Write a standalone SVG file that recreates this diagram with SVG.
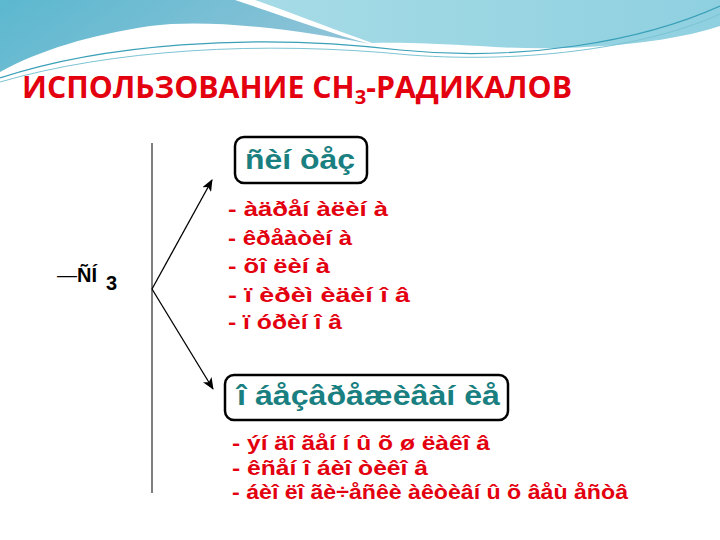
<svg xmlns="http://www.w3.org/2000/svg" width="720" height="540" viewBox="0 0 720 540">
<defs>
<linearGradient id="gL" x1="0" y1="0" x2="1" y2="0.3">
<stop offset="0" stop-color="#5bb8cf"/>
<stop offset="1" stop-color="#8ec3d8"/>
</linearGradient>
<linearGradient id="gR" x1="0" y1="0" x2="1" y2="0">
<stop offset="0" stop-color="#a6dbe6"/>
<stop offset="1" stop-color="#8fd0e0"/>
</linearGradient>
<marker id="ah" viewBox="0 0 12 10" refX="11" refY="5" markerWidth="12" markerHeight="10" markerUnits="userSpaceOnUse" orient="auto">
<path d="M0,0 L12,5 L0,10 L3,5 Z" fill="#000"/>
</marker>
<style>
.title{font-family:"Open Sans","Liberation Sans",sans-serif;font-weight:bold;font-size:30px;fill:#e3000f}
.box{fill:#fff;stroke:#000;stroke-width:2.5}
.head{font-family:"Liberation Sans",Arial,sans-serif;font-weight:bold;font-size:27px;fill:#1a7f80}
.item{font-family:"Liberation Sans",Arial,sans-serif;font-weight:bold;font-size:21px;fill:#e3000f}
.item2{font-family:"Liberation Sans",Arial,sans-serif;font-weight:bold;font-size:20px;fill:#e3000f}
.conn{stroke:#000;stroke-width:1.3;fill:none}
</style>
</defs>
<rect width="720" height="540" fill="#fff"/>
<g id="background">
<path d="M0,0 L235,0 C280,15 330,33 370,44 C300,30 210,18 150,26 C90,35 40,50 0,72 Z" fill="url(#gL)"/>
<path d="M255,0 L720,0 L720,26 C660,46 560,52 480,46 C440,44 400,42 372,43 C330,28 290,12 255,0 Z" fill="url(#gR)"/>
<path d="M0,78 C100,45 250,32 400,50 C520,62 640,42 720,6" fill="none" stroke="#3aa0b8" stroke-width="1.2"/>
<path d="M0,82 C110,50 260,40 410,55 C530,64 650,46 720,14" fill="none" stroke="#7cc4d4" stroke-width="1"/>
</g>
<text class="title" x="22" y="98" textLength="550" lengthAdjust="spacingAndGlyphs">ИСПОЛЬЗОВАНИЕ CH<tspan font-size="20" dy="6">3</tspan><tspan dy="-6">-РАДИКАЛОВ</tspan></text>
<g id="connectors">
<line x1="152" y1="143" x2="152" y2="493" stroke="#555" stroke-width="1.5"/>
<line class="conn" x1="152" y1="289" x2="212" y2="180" marker-end="url(#ah)"/>
<line class="conn" x1="152" y1="289" x2="213" y2="389" marker-end="url(#ah)"/>
</g>
<g id="ch3">
<text x="57" y="282" font-family="Liberation Sans,Arial,sans-serif" font-size="20" fill="#000">—<tspan font-weight="bold">ÑÍ</tspan><tspan font-weight="bold" dx="9" dy="8">3</tspan></text>
</g>
<g id="synthesis">
<rect class="box" x="235" y="137" width="132" height="46" rx="9"/>
<text class="head" x="245" y="169" textLength="110" lengthAdjust="spacingAndGlyphs">ñèí òåç</text>
</g>
<g id="synthesis-list">
<text class="item" x="228" y="216" textLength="160" lengthAdjust="spacingAndGlyphs">- àäðåí àëèí à</text>
<text class="item" x="228" y="245" textLength="124" lengthAdjust="spacingAndGlyphs">- êðåàòèí à</text>
<text class="item" x="228" y="273" textLength="102" lengthAdjust="spacingAndGlyphs">- õî ëèí à</text>
<text class="item" x="228" y="302" textLength="182" lengthAdjust="spacingAndGlyphs">- ï èðèì èäèí î â</text>
<text class="item" x="228" y="329" textLength="114" lengthAdjust="spacingAndGlyphs">- ï óðèí î â</text>
</g>
<g id="detox">
<rect class="box" x="225" y="375" width="283" height="45" rx="9"/>
<text class="head" x="237" y="405" textLength="263" lengthAdjust="spacingAndGlyphs">î áåçâðåæèâàí èå</text>
</g>
<g id="detox-list">
<text class="item2" x="232" y="450" textLength="258" lengthAdjust="spacingAndGlyphs">- ýí äî ãåí í û õ ø ëàêî â</text>
<text class="item2" x="232" y="475" textLength="196" lengthAdjust="spacingAndGlyphs">- êñåí î áèî òèêî â</text>
<text class="item2" x="232" y="499" textLength="396" lengthAdjust="spacingAndGlyphs">- áèî ëî ãè÷åñêè àêòèâí û õ âåù åñòâ</text>
</g>
</svg>
